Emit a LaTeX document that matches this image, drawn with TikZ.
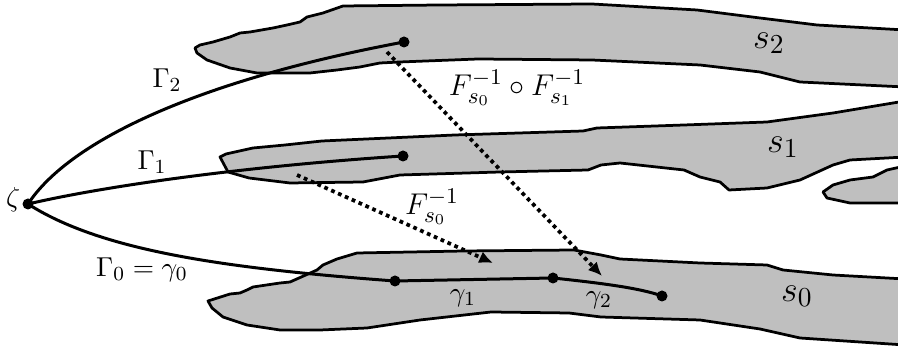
\documentclass[tikz,border=0pt]{standalone}
\usetikzlibrary{arrows.meta}
\begin{document}
\begin{tikzpicture}[x=0.4pt,y=-0.4pt,>={Latex[length=5.5pt,width=5pt]},
  region/.style={draw,line width=1.1pt,fill=black!25,line join=round},
  curve/.style={line width=1.2pt},
  pt/.style={circle,fill,inner sep=0pt,minimum size=4.4pt},
  mapto/.style={->,line width=1.5pt,dash pattern=on 1.5pt off 1.5pt},
  lab/.style={inner sep=0pt,font=\fontsize{11.3}{13}\selectfont},
  midl/.style={inner sep=0pt,font=\fontsize{12.3}{14}\selectfont},
  bigl/.style={inner sep=0pt,font=\fontsize{15.5}{18}\selectfont}]
  \useasboundingbox (0,0) rectangle (898,350);
  \clip (0,0) rectangle (898,350);

  % Regions
  \draw[region] (195,48) -- (200,45) -- (213,42) -- (230,37) -- (240,33) -- (250,32) -- (273,28)
    -- (287,25) -- (300,22) -- (307,17) -- (323,13) -- (343,6) -- (440,5) -- (592,4) -- (697,10)
    -- (760,18) -- (817,25) -- (905,30) -- (905,87) -- (800,82) -- (760,72) -- (700,65) -- (592,60)
    -- (478,59) -- (400,62) -- (380,63) -- (360,67) -- (337,70) -- (310,73) -- (257,73) -- (230,68)
    -- (207,60) -- (197,53) -- cycle;
  \draw[region] (220,157) -- (226,154) -- (253,148) -- (285,145) -- (322,141) -- (455,135)
    -- (583,131) -- (597,128) -- (684,125) -- (767,122) -- (833,113) -- (905,101) -- (905,157)
    -- (850,160) -- (833,165) -- (800,180) -- (767,188) -- (729,190) -- (720,182) -- (700,177)
    -- (684,170) -- (620,163) -- (601,165) -- (588,170) -- (500,172) -- (400,175) -- (363,182)
    -- (290,183) -- (249,178) -- (228,172) -- cycle;
  \draw[region] (823,192) -- (833,185) -- (850,180) -- (873,177) -- (887,170) -- (905,166)
    -- (905,203) -- (850,203) -- (827,198) -- cycle;
  \draw[region] (208,301) -- (230,294) -- (240,293) -- (247,290) -- (253,287) -- (280,283)
    -- (290,282) -- (317,270) -- (323,265) -- (337,259) -- (357,253) -- (464,251) -- (574,250)
    -- (601,255) -- (620,259) -- (700,263) -- (767,265) -- (783,270) -- (833,275) -- (905,279)
    -- (905,345) -- (800,338) -- (760,329) -- (700,320) -- (601,317) -- (569,313) -- (491,312)
    -- (420,320) -- (367,328) -- (320,330) -- (280,330) -- (247,325) -- (223,317) -- (212,308) -- cycle;

  % Points
  \node[pt] (zeta) at (28,204) {};
  \node[pt] (e2) at (404,42) {};
  \node[pt] (e1) at (403,156) {};
  \node[pt] (g0) at (395,281) {};
  \node[pt] (g1) at (553,278) {};
  \node[pt] (g2) at (662,296) {};

  % Paths from zeta
  \draw[curve] (zeta.center) .. controls (70,140) and (200,80) .. (e2.center);
  \draw[curve] (zeta.center) .. controls (110,185) and (250,166) .. (e1.center);
  \draw[curve] (zeta.center) .. controls (100,250) and (220,268) .. (g0.center);
  \draw[curve] (g0.center) -- (g1.center);
  \draw[curve] (g1.center) .. controls (600,283) and (640,288) .. (g2.center);

  % Maps
  \coordinate (m1s) at (297,175);
  \coordinate (m1e) at (493,263);
  \coordinate (m2s) at (387,52);
  \coordinate (m2e) at (602,276);
  \draw[mapto] (m1s) -- (m1e);
  \draw[mapto] (m2s) -- (m2e);

  % Labels
  \node[lab] (lzeta) at (13,200) {$\zeta$};
  \node[lab] (lG2) at (167,80) {$\Gamma_2$};
  \node[lab] (lG1) at (152,162) {$\Gamma_1$};
  \node[lab] (lG0) at (142,270) {$\Gamma_0=\gamma_0$};
  \node[lab] (lg1) at (463,298) {$\gamma_1$};
  \node[lab] (lg2) at (599,300) {$\gamma_2$};
  \node[midl] (lF1) at (432,207) {$F_{s_0}^{-1}$};
  \node[midl] (lF2) at (517,88) {$F_{s_0}^{-1}\circ F_{s_1}^{-1}$};
  \node[bigl] (ls2) at (769,43) {$s_2$};
  \node[bigl] (ls1) at (783,147) {$s_1$};
  \node[bigl] (ls0) at (797,296) {$s_0$};
\end{tikzpicture}
\end{document}
